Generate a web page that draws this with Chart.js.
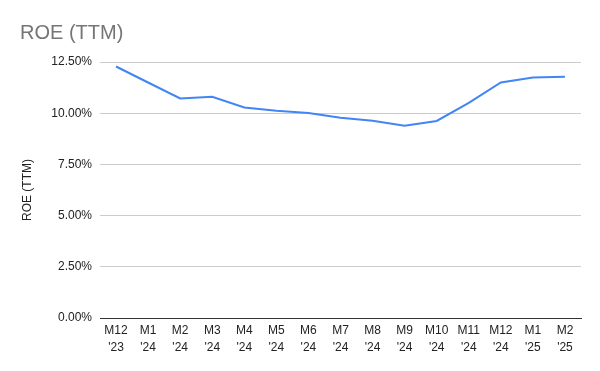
<!DOCTYPE html>
<html>
<head>
<meta charset="utf-8">
<script src="https://cdn.jsdelivr.net/npm/chart.js@4"></script>
<style>
  html, body { margin: 0; padding: 0; background: #fff; }
  #wrap { width: 600px; height: 371px; }
</style>
</head>
<body>
<div id="wrap"><canvas id="c" width="600" height="371"></canvas></div>
<script>
const categories = [["M12","'23"],["M1","'24"],["M2","'24"],["M3","'24"],["M4","'24"],["M5","'24"],["M6","'24"],["M7","'24"],["M8","'24"],["M9","'24"],["M10","'24"],["M11","'24"],["M12","'24"],["M1","'25"],["M2","'25"]];
const roeValues = [12.28, 11.5, 10.72, 10.80, 10.28, 10.12, 10.01, 9.78, 9.63, 9.39, 9.62, 10.50, 11.50, 11.74, 11.78];
const yTicks = [0, 2.5, 5, 7.5, 10, 12.5];
const chartTitle = "ROE (TTM)";
const yTitle = "ROE (TTM)";

const FONT = "'Liberation Sans', Arial, sans-serif";

new Chart(document.getElementById('c'), {
  type: 'line',
  data: {
    labels: categories,
    datasets: [{
      label: yTitle,
      data: roeValues,
      borderColor: '#4285F4',
      backgroundColor: '#4285F4',
      borderWidth: 2,
      pointRadius: 0,
      pointHoverRadius: 0,
      tension: 0,
      fill: false
    }]
  },
  options: {
    responsive: false,
    animation: false,
    devicePixelRatio: 1,
    layout: { padding: { left: 20, right: 19, top: 0, bottom: 0 } },
    plugins: {
      legend: { display: false },
      tooltip: { enabled: false },
      title: {
        display: true,
        text: chartTitle,
        align: 'start',
        color: '#757575',
        font: { family: FONT, size: 20, weight: 'normal' },
        padding: { top: 21, bottom: 17 }
      }
    },
    scales: {
      x: {
        offset: true,
        grid: { display: false, drawTicks: false },
        border: { display: true, color: '#333333', width: 1 },
        ticks: {
          color: '#222222',
          font: { family: FONT, size: 12, lineHeight: 1.4 },
          padding: 4,
          maxRotation: 0,
          autoSkip: false
        },
        afterFit: (s) => { s.height = 53; }
      },
      y: {
        min: 0,
        max: 12.5,
        afterBuildTicks: (s) => { s.ticks = yTicks.map(v => ({ value: v })); },
        grid: { color: '#cccccc', drawTicks: false },
        border: { display: false },
        ticks: {
          color: '#222222',
          font: { family: FONT, size: 12 },
          padding: 8,
          callback: (v) => Number(v).toFixed(2) + '%'
        },
        title: {
          display: true,
          text: yTitle,
          color: '#222222',
          font: { family: FONT, size: 12 },
          padding: { top: 0, bottom: 0 }
        },
        afterFit: (s) => { s.width = 80; }
      }
    }
  }
});
</script>
</body>
</html>
